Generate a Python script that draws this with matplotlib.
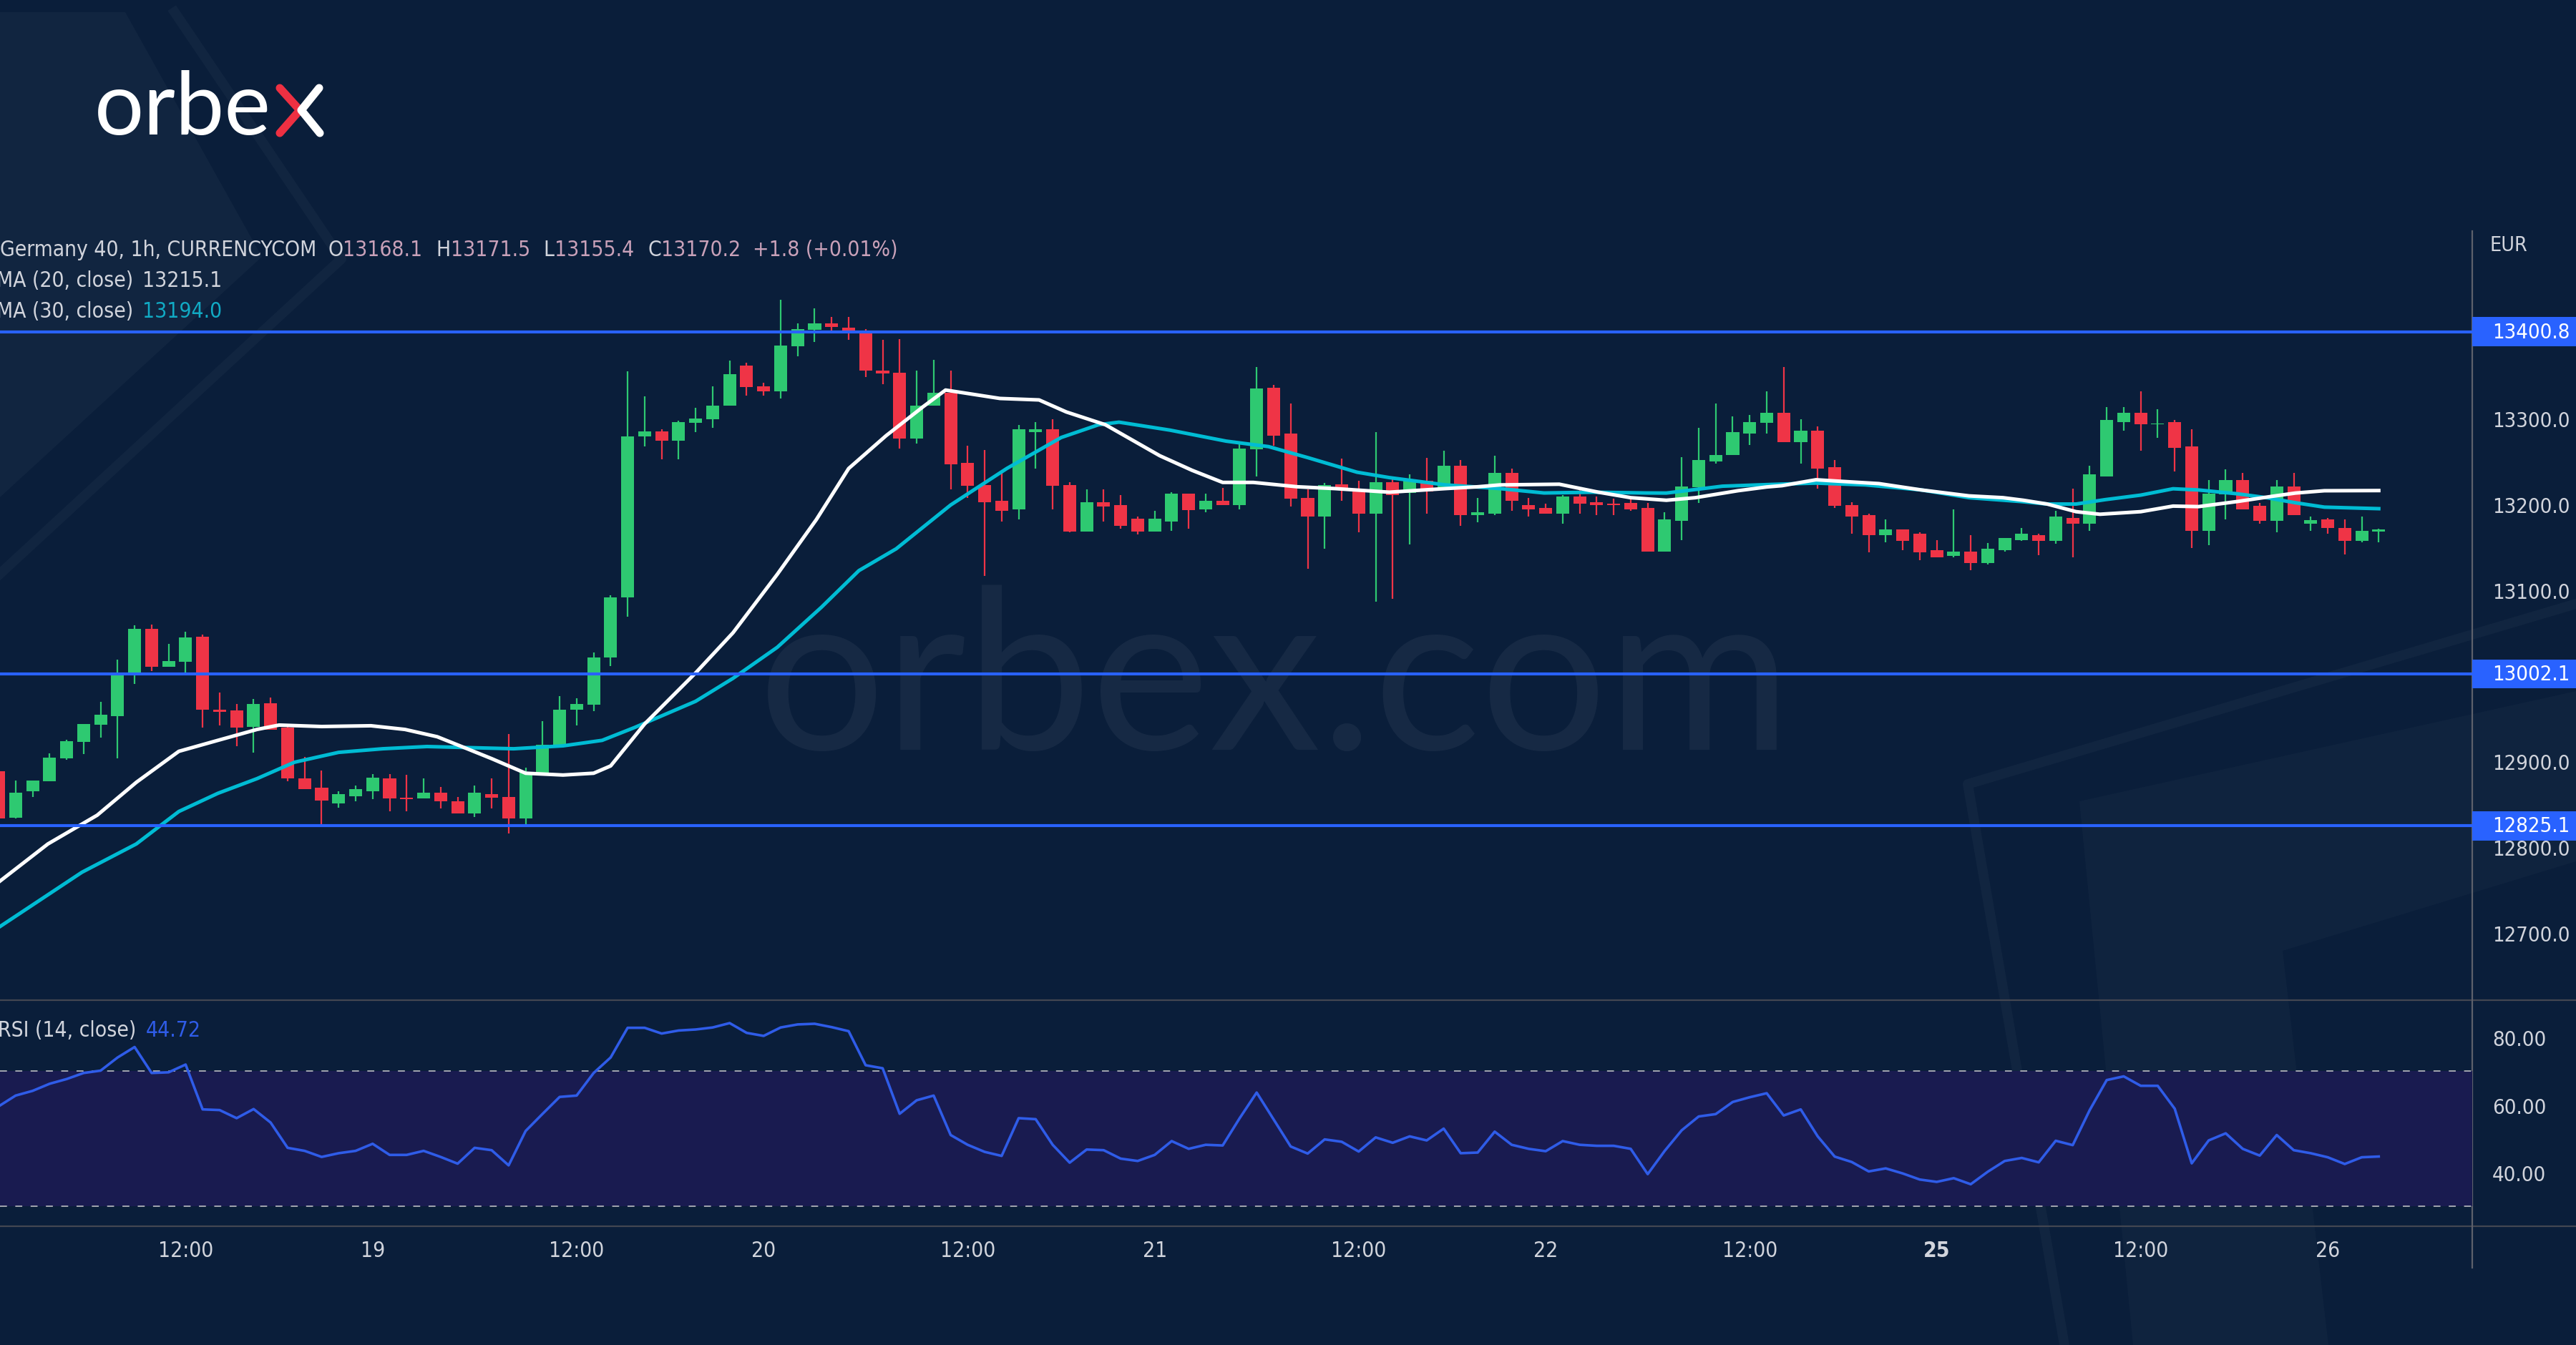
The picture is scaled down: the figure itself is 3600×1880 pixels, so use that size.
import numpy as np
import matplotlib
matplotlib.use('Agg')
import matplotlib.pyplot as plt
from matplotlib import font_manager
from matplotlib.patches import Rectangle, Polygon
from matplotlib.transforms import blended_transform_factory

# Germany 40, 1h candles (index 1 = first visible bar, 23 bars per day)
opens = [12888.6, 12834.6, 12865.2, 12877.1, 12903.4, 12922.6, 12942.5, 12953.2, 13002.0, 13054.3,
         13010.6, 13016.0, 13045.8, 12960.8, 12959.6, 12940.4, 12968.0, 12939.6, 12880.1, 12869.4,
         12851.1, 12859.7, 12865.2, 12880.1, 12857.5, 12856.7, 12863.9, 12853.7, 12839.7, 12862.2,
         12858.8, 12833.3, 12887.3, 12919.2, 12960.0, 12966.3, 13021.6, 13091.3, 13278.8, 13284.7,
         13274.1, 13294.5, 13298.8, 13314.9, 13361.3, 13337.0, 13331.5, 13383.8, 13402.9, 13410.2,
         13405.1, 13400.0, 13355.3, 13353.2, 13276.7, 13314.5, 13329.4, 13248.2, 13222.3, 13204.0,
         13193.8, 13283.9, 13286.9, 13222.3, 13168.3, 13202.3, 13198.9, 13183.1, 13168.3, 13179.7,
         13212.5, 13193.8, 13204.0, 13198.9, 13263.5, 13335.8, 13281.8, 13207.4, 13185.3, 13223.1,
         13215.9, 13189.1, 13225.7, 13212.9, 13227.4, 13215.9, 13244.4, 13187.4, 13189.1, 13235.9,
         13198.9, 13195.5, 13189.1, 13208.7, 13202.3, 13200.1, 13200.9, 13195.5, 13144.9, 13180.7,
         13219.3, 13250.0, 13257.1, 13282.4, 13294.3, 13306.2, 13272.3, 13285.4, 13243.1, 13199.1,
         13187.2, 13163.7, 13170.2, 13165.2, 13146.4, 13139.9, 13144.4, 13131.6, 13146.4, 13158.3,
         13163.7, 13157.4, 13183.6, 13177.1, 13231.8, 13295.8, 13306.2, 13292.8, 13295.8, 13266.9,
         13168.8, 13211.3, 13227.7, 13197.6, 13180.7, 13220.8, 13177.1, 13182.1, 13172.3, 13156.9,
         13168.1]
highs = [12894.9, 12877.9, 12878.0, 12909.8, 12925.5, 12944.0, 12969.3, 13019.1, 13058.6, 13059.4,
         13037.3, 13050.9, 13048.0, 12980.0, 12967.2, 12972.7, 12974.8, 12943.8, 12905.6, 12889.8,
         12865.2, 12872.4, 12885.6, 12885.6, 12884.3, 12880.1, 12870.7, 12858.8, 12872.4, 12880.1,
         12932.3, 12892.8, 12947.2, 12976.5, 12973.6, 13026.7, 13093.9, 13354.9, 13325.6, 13287.3,
         13297.5, 13312.4, 13337.0, 13366.8, 13364.7, 13341.3, 13437.8, 13410.2, 13427.6, 13417.8,
         13417.8, 13403.8, 13391.0, 13392.3, 13355.3, 13368.1, 13355.3, 13267.7, 13262.6, 13237.1,
         13292.4, 13295.8, 13298.8, 13225.7, 13217.2, 13217.2, 13210.8, 13185.3, 13191.7, 13213.8,
         13212.5, 13212.5, 13218.9, 13273.3, 13359.6, 13339.2, 13317.1, 13217.2, 13224.4, 13252.9,
         13227.4, 13283.9, 13231.6, 13234.2, 13254.1, 13261.8, 13251.2, 13207.4, 13256.3, 13241.4,
         13207.4, 13200.1, 13210.8, 13217.2, 13208.7, 13206.5, 13208.9, 13200.9, 13190.5, 13255.0,
         13289.2, 13317.5, 13302.3, 13304.1, 13331.5, 13360.0, 13299.1, 13290.7, 13251.5, 13202.4,
         13189.0, 13182.1, 13170.2, 13166.7, 13158.3, 13194.0, 13163.7, 13154.8, 13160.4, 13172.3,
         13165.2, 13191.7, 13217.8, 13244.6, 13313.0, 13313.0, 13331.5, 13310.7, 13298.2, 13286.9,
         13227.7, 13240.1, 13236.3, 13200.9, 13227.7, 13236.3, 13185.7, 13183.6, 13182.1, 13185.7,
         13171.5]
lows = [12833.3, 12833.3, 12858.8, 12877.1, 12902.1, 12909.0, 12927.7, 12903.4, 12990.6, 13005.5,
        13010.6, 13003.3, 12939.6, 12941.7, 12917.5, 12910.7, 12937.4, 12877.1, 12868.1, 12826.9,
        12846.0, 12853.3, 12856.2, 12841.8, 12841.8, 12856.7, 12845.4, 12839.7, 12835.4, 12845.2,
        12816.3, 12824.8, 12886.4, 12918.3, 12941.7, 12958.7, 13011.0, 13068.4, 13266.9, 13252.0,
        13252.0, 13283.9, 13289.0, 13314.9, 13326.4, 13326.4, 13323.0, 13371.9, 13388.9, 13401.6,
        13391.0, 13347.7, 13340.0, 13264.8, 13270.3, 13314.5, 13217.2, 13207.4, 13116.0, 13179.7,
        13181.9, 13241.4, 13193.8, 13167.0, 13168.3, 13179.7, 13171.2, 13164.9, 13168.3, 13169.1,
        13171.2, 13190.4, 13198.9, 13193.8, 13232.0, 13267.7, 13196.8, 13124.5, 13147.9, 13204.0,
        13167.0, 13086.2, 13089.6, 13153.0, 13189.1, 13215.9, 13174.6, 13178.5, 13187.0, 13191.7,
        13185.3, 13189.1, 13176.8, 13189.1, 13187.4, 13187.4, 13191.7, 13144.9, 13144.9, 13158.3,
        13200.9, 13246.7, 13257.1, 13269.0, 13282.4, 13272.3, 13246.7, 13217.8, 13195.5, 13165.2,
        13143.5, 13155.4, 13146.4, 13134.5, 13138.1, 13138.1, 13123.2, 13129.5, 13144.9, 13156.9,
        13140.5, 13153.9, 13138.1, 13168.8, 13231.8, 13285.7, 13261.9, 13277.3, 13238.0, 13148.8,
        13151.8, 13182.1, 13194.0, 13176.8, 13166.7, 13187.2, 13168.8, 13165.8, 13141.4, 13155.4,
        13155.4]
closes = [12833.3, 12863.9, 12877.9, 12904.3, 12923.8, 12943.8, 12954.4, 13003.3, 13054.3, 13010.6,
          13016.9, 13044.6, 12960.0, 12957.8, 12939.6, 12967.2, 12937.4, 12880.1, 12868.1, 12854.5,
          12862.2, 12868.1, 12881.3, 12856.7, 12856.2, 12863.9, 12853.7, 12839.7, 12863.9, 12858.0,
          12833.3, 12887.7, 12919.6, 12960.8, 12967.2, 13021.6, 13091.3, 13278.8, 13284.7, 13274.1,
          13295.4, 13300.0, 13314.9, 13351.1, 13336.2, 13331.5, 13384.6, 13403.8, 13410.2, 13405.9,
          13399.5, 13355.3, 13351.9, 13276.7, 13314.9, 13329.4, 13246.5, 13221.0, 13202.3, 13191.7,
          13286.9, 13286.9, 13221.0, 13168.3, 13202.3, 13196.8, 13174.6, 13168.3, 13183.1, 13212.5,
          13193.3, 13204.0, 13198.9, 13264.8, 13334.9, 13279.6, 13206.1, 13185.3, 13222.3, 13215.9,
          13189.1, 13225.7, 13210.8, 13227.4, 13215.0, 13244.4, 13187.4, 13190.4, 13235.9, 13204.0,
          13193.8, 13189.1, 13208.7, 13200.1, 13198.9, 13198.9, 13194.0, 13144.9, 13182.1, 13220.8,
          13251.5, 13257.1, 13283.9, 13295.8, 13306.2, 13272.3, 13285.4, 13241.6, 13197.6, 13185.7,
          13163.7, 13170.2, 13156.9, 13143.5, 13138.1, 13144.4, 13131.6, 13147.9, 13160.4, 13165.2,
          13157.4, 13185.1, 13177.1, 13234.8, 13297.6, 13306.2, 13292.8, 13293.7, 13265.4, 13168.8,
          13212.5, 13227.7, 13194.0, 13180.7, 13220.8, 13187.2, 13181.5, 13172.3, 13157.4, 13168.8,
          13170.2]

# moving averages at bar positions
ma20_x = [1.1, 3.9, 6.8, 9.1, 11.6, 13.9, 16.2, 17.5, 20.0, 22.9, 24.9, 26.8, 28.4, 30.0, 32.0, 34.2,
          36.0, 37.0, 39.0, 42.0, 44.2, 46.8, 49.1, 51.0, 53.2, 55.4, 56.7, 59.9, 62.2, 63.8, 66.1,
          69.3, 71.2, 73.0, 74.8, 77.4, 79.6, 81.2, 82.8, 86.1, 88.0, 89.3, 92.8, 95.1, 97.0, 99.1,
          100.8, 103.3, 105.0, 105.9, 107.9, 109.1, 111.6, 114.1, 116.9, 118.9, 120.1, 121.5, 123.2,
          124.6, 127.0, 128.9, 130.4, 132.7, 134.7, 136.1, 137.8, 141.0]
ma20_y = [12761, 12804, 12837.5, 12875.8, 12911.9, 12924.7, 12937.4, 12942.5, 12940.8, 12941.7,
          12937.4, 12928.9, 12916.2, 12903.4, 12886.4, 12884.3, 12886.4, 12894.9, 12943.8, 13003.3,
          13050.1, 13118.1, 13181.9, 13241.4, 13279.6, 13313.7, 13332.8, 13323.0, 13321.3, 13307.3,
          13292.4, 13256.3, 13239.3, 13225.2, 13225.2, 13220.1, 13218.0, 13215.9, 13213.8, 13218.0,
          13220.1, 13222.3, 13223.1, 13213.8, 13207.4, 13204.4, 13207.4, 13215.5, 13219.9, 13221.4,
          13228.3, 13226.8, 13223.8, 13216.4, 13209.5, 13207.4, 13204.4, 13200.0, 13191.1, 13188.1,
          13191.1, 13197.6, 13197.0, 13203.0, 13208.9, 13212.8, 13215.5, 13215.7]
ma30_x = [1.1, 5.9, 9.1, 11.6, 13.9, 16.2, 18.4, 21.0, 23.6, 26.2, 28.7, 31.3, 34.2, 36.5, 38.4,
          42.0, 44.2, 46.8, 49.4, 51.6, 53.8, 57.0, 60.3, 63.5, 65.7, 66.9, 69.9, 73.2, 75.7, 78.0,
          80.9, 82.8, 86.1, 89.3, 91.9, 94.8, 97.9, 99.1, 102.4, 105.8, 107.9, 110.8, 114.1, 116.9,
          119.9, 121.5, 123.2, 124.9, 127.0, 128.9, 130.4, 132.7, 134.4, 136.1, 137.8, 141.0]
ma30_y = [12708, 12771, 12804, 12841.8, 12863.0, 12880.1, 12899.2, 12910.7, 12914.9, 12917.5,
          12916.2, 12914.9, 12918.3, 12924.7, 12939.6, 12970.2, 12997.0, 13033.1, 13079.8, 13122.4,
          13147.9, 13198.9, 13241.4, 13277.5, 13292.4, 13295.4, 13286.1, 13273.3, 13266.9, 13254.1,
          13237.1, 13230.8, 13222.3, 13218.0, 13212.9, 13213.8, 13212.9, 13212.8, 13220.8, 13223.2,
          13224.4, 13222.3, 13216.4, 13207.4, 13203.0, 13200.0, 13200.0, 13205.1, 13210.4, 13217.8,
          13216.4, 13211.9, 13207.4, 13201.5, 13196.4, 13194.6]

rsi = [59.6, 62.8, 64.2, 66.3, 67.7, 69.5, 70.2, 74.1, 77.2, 69.5,
       69.7, 72.0, 58.7, 58.5, 56.1, 58.8, 54.8, 47.3, 46.4, 44.6,
       45.7, 46.4, 48.5, 45.2, 45.2, 46.4, 44.6, 42.6, 47.3, 46.6,
       42.1, 52.3, 57.4, 62.4, 62.8, 69.5, 74.1, 82.9, 82.9, 81.2,
       82.1, 82.4, 83.0, 84.3, 81.4, 80.5, 83.0, 83.9, 84.1, 83.1,
       81.9, 71.8, 70.9, 57.4, 61.4, 62.8, 51.1, 48.2, 46.1, 44.9,
       56.1, 55.8, 48.2, 42.9, 46.8, 46.6, 44.1, 43.4, 45.2, 49.3,
       47.0, 48.2, 48.0, 56.1, 63.7, 55.7, 47.7, 45.6, 49.8, 49.1,
       46.2, 50.4, 48.8, 50.7, 49.5, 53.0, 45.7, 45.9, 52.1, 48.2,
       47.0, 46.3, 49.3, 48.2, 47.9, 47.9, 47.0, 39.5, 46.4, 52.5,
       56.6, 57.3, 60.9, 62.3, 63.5, 56.9, 58.7, 50.7, 44.7, 43.1,
       40.3, 41.2, 39.7, 37.9, 37.2, 38.3, 36.5, 40.2, 43.4, 44.3,
       43.0, 49.4, 48.1, 58.5, 67.4, 68.5, 65.7, 65.7, 58.9, 42.7,
       49.5, 51.6, 47.0, 45.0, 51.1, 46.6, 45.7, 44.5, 42.5, 44.5,
       44.72]

levels = [13400.8, 13002.1, 12825.1]
price_ticks = [12700, 12800, 12900, 13000, 13100, 13200, 13300]
rsi_ticks = [40, 60, 80]
time_pos = [12, 23, 35, 46, 58, 69, 81, 92, 104, 115, 127, 138]
time_labels = ['12:00', '19', '12:00', '20', '12:00', '21', '12:00', '22', '12:00', '25', '12:00', '26']

BG = '#0a1e3a'
GREEN = '#2ec971'
RED = '#ef3446'
BLUE = '#2962ff'
TXT = '#d1d4dc'
W, H = 3600, 1881

names = {f.name for f in font_manager.fontManager.ttflist}
if 'Liberation Sans Narrow' in names:
    plt.rcParams['font.family'] = ['Liberation Sans Narrow', 'DejaVu Sans']
    FS = 24
else:
    plt.rcParams['font.family'] = ['DejaVu Sans']
    plt.rcParams['font.stretch'] = 'condensed'
    FS = 21.5


def rect(x0, y0, x1, y1):
    # pixel box -> figure fraction
    return [x0 / W, 1 - y1 / H, (x1 - x0) / W, (y1 - y0) / H]


def main():
    fig = plt.figure(figsize=(36, 18.81), dpi=100, facecolor=BG)

    # background decorations and watermark
    bg = fig.add_axes([0, 0, 1, 1], zorder=-10)
    bg.set_xlim(0, W)
    bg.set_ylim(H, 0)
    bg.axis('off')
    bg.add_patch(Polygon([(0, 18), (175, 18), (366, 360), (0, 696)], closed=True,
                         fc='white', alpha=0.03, ec='none'))
    bg.plot([244, 477, 0], [18, 363, 803], color='white', alpha=0.03, lw=10)
    bg.plot([3600, 2750, 2885], [845, 1097, 1881], color='white', alpha=0.03, lw=10)
    bg.add_patch(Polygon([(3600, 967), (2906, 1121), (2981, 1881), (3254, 1881),
                          (3190, 1330), (3600, 1205)], closed=True,
                         fc='white', alpha=0.025, ec='none'))
    bg.text(1060, 1048, 'orbex.com', fontsize=225, family='Lato', color='#ffffff',
            alpha=0.05, va='baseline', ha='left')

    # logo
    bg.text(132, 188, 'orbe', fontsize=88, family='Lato', color='white', va='baseline')
    bg.plot([391, 419, 391], [124, 155, 187], color='#ee3042', lw=8, solid_capstyle='round')
    bg.plot([446, 421, 447], [124, 155, 187], color='white', lw=8, solid_capstyle='round')

    # panel frame lines
    bg.axhline(1399, color='#434651', lw=1.6)
    bg.axhline(1715, color='#434651', lw=1.6)
    bg.plot([3455, 3455], [324, 1773], color='#5d606b', lw=1.6)

    x = np.arange(1, len(closes) + 1)
    o = np.array(opens)
    c = np.array(closes)
    up = c >= o
    colors = np.where(up, GREEN, RED)

    # price panel
    ax = fig.add_axes(rect(0, 324, 3455, 1399))
    ax.set_facecolor('none')
    ax.set_xlim(1.082, 146.5)
    ax.set_ylim(12622, 13518)
    for s in ax.spines.values():
        s.set_visible(False)
    ax.vlines(x, lows, highs, colors=colors, lw=1.6, zorder=2)
    ax.bar(x, np.maximum(np.abs(c - o), 1.2), bottom=np.minimum(o, c), width=0.76,
           color=colors, linewidth=0, zorder=3)
    ax.plot(ma30_x, ma30_y, color='#00bcd4', lw=3.6, zorder=4)
    ax.plot(ma20_x, ma20_y, color='white', lw=3.6, zorder=4)
    for lv in levels:
        ax.axhline(lv, color=BLUE, lw=3.0, zorder=5)
    ax.set_xticks([])
    ax.yaxis.tick_right()
    ax.set_yticks(price_ticks)
    ax.set_yticklabels(['%.1f' % v for v in price_ticks])
    ax.tick_params(axis='y', length=0, pad=20, labelsize=FS - 0.5, labelcolor=TXT)
    tr = blended_transform_factory(ax.transAxes, ax.transData)
    for lv in levels:
        ax.add_patch(Rectangle((1.0, lv - 17), 0.045, 34, transform=tr, clip_on=False,
                               fc=BLUE, ec='none', zorder=6))
        ax.text(3483 / 3455, lv, '%.1f' % lv, transform=tr, va='center', ha='left',
                color='white', fontsize=FS - 0.5, clip_on=False, zorder=7)

    # RSI panel
    ar = fig.add_axes(rect(0, 1399, 3455, 1715))
    ar.set_facecolor('none')
    ar.set_xlim(1.082, 146.5)
    ar.set_ylim(24.04, 91.1)
    for s in ar.spines.values():
        s.set_visible(False)
    ar.axhspan(30, 70, color='#191b50', lw=0, zorder=1)
    ar.axhline(70, color='#a3a6b0', lw=1.4, dashes=(5, 6), zorder=2)
    ar.axhline(30, color='#a3a6b0', lw=1.4, dashes=(5, 6), zorder=2)
    ar.plot(x, rsi, color='#2f5ce8', lw=2.6, zorder=3)
    ar.yaxis.tick_right()
    ar.set_yticks(rsi_ticks)
    ar.set_yticklabels(['%.2f' % v for v in rsi_ticks])
    ar.tick_params(axis='y', length=0, pad=20, labelsize=FS - 0.5, labelcolor=TXT)
    ar.set_xticks(time_pos)
    ar.set_xticklabels(time_labels)
    ar.tick_params(axis='x', length=0, pad=14, labelsize=FS, labelcolor=TXT)
    for lbl in ar.get_xticklabels():
        if lbl.get_text() == '25':
            lbl.set_fontweight('bold')

    # legends
    r = fig.canvas.get_renderer()

    def chain(x0, y, pieces):
        xx = x0
        for s, col, g in pieces:
            t = fig.text((xx + g) / W, 1 - y / H, s, color=col, fontsize=FS,
                         va='center', ha='left')
            xx = t.get_window_extent(r).x1
        return xx

    pink = '#c9a1b9'
    chain(0, 350, [('Germany 40, 1h, CURRENCYCOM', TXT, 0),
                   ('O', TXT, 16), ('13168.1', pink, 0),
                   ('H', TXT, 19), ('13171.5', pink, 0),
                   ('L', TXT, 19), ('13155.4', pink, 0),
                   ('C', TXT, 19), ('13170.2', pink, 0),
                   ('+1.8 (+0.01%)', pink, 17)])
    chain(-5, 393, [('MA (20, close)', TXT, 0), ('13215.1', TXT, 13)])
    chain(-5, 435, [('MA (30, close)', TXT, 0), ('13194.0', '#11aac4', 13)])
    chain(-3, 1441, [('RSI (14, close)', TXT, 0), ('44.72', '#2f5ce8', 13)])
    fig.text(3480 / W, 1 - 343 / H, 'EUR', color=TXT, fontsize=FS - 1, va='center', ha='left')

    fig.savefig('out.png', dpi=100, facecolor=BG)


if __name__ == '__main__':
    main()
